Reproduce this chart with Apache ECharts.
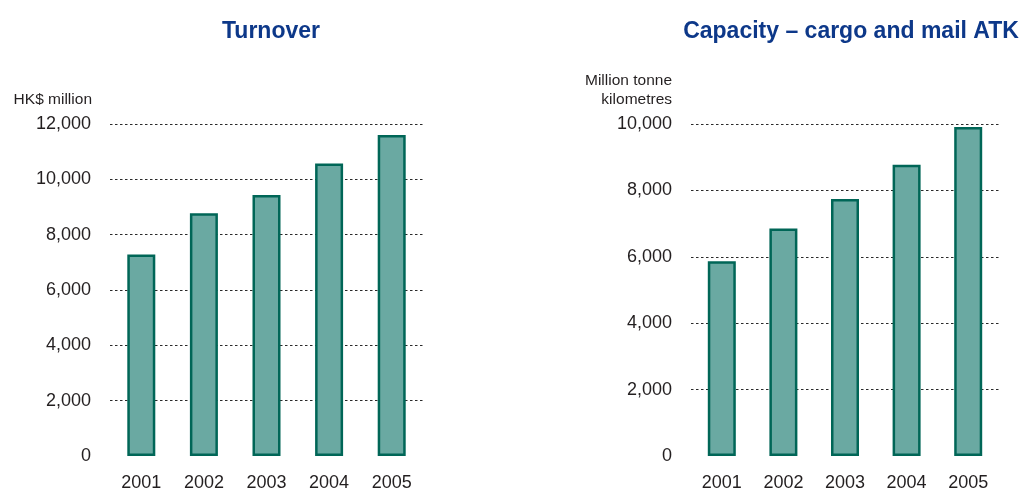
<!DOCTYPE html>
<html>
<head>
<meta charset="utf-8">
<script src="https://cdn.jsdelivr.net/npm/echarts@6/dist/echarts.min.js"></script>
<style>
  html, body { margin: 0; padding: 0; background: #ffffff; overflow: hidden; }
  #chart { width: 1020px; height: 492px; }
</style>
</head>
<body>
<div id="chart"></div>
<script>
// Years shown on both category axes
const years = ['2001', '2002', '2003', '2004', '2005'];

// Turnover, HK$ million
const turnover = [7280, 8770, 9430, 10570, 11600];

// Capacity – cargo and mail ATK, million tonne kilometres
const capacity = [5865, 6850, 7740, 8770, 9910];

const titleColor = '#0d3889';
const textColor = '#231f20';
const barFill = '#6aa9a2';
const barEdge = '#006657';
const font = '"Liberation Sans", Arial, sans-serif';

const fmt = v => v.toLocaleString('en-US');

function valueAxis(gridIndex, max) {
  return {
    type: 'value',
    gridIndex: gridIndex,
    min: 0,
    max: max,
    interval: 2000,
    axisLine: { show: false },
    axisTick: { show: false },
    axisLabel: {
      margin: 19,
      fontFamily: font,
      fontSize: 18,
      color: textColor,
      formatter: fmt
    },
    splitLine: {
      show: true,
      showMinLine: false,
      lineStyle: { color: '#2a2a2a', width: 1, type: [2.5, 2.5] }
    }
  };
}

function categoryAxis(gridIndex) {
  return {
    type: 'category',
    gridIndex: gridIndex,
    data: years,
    axisLine: { show: false },
    axisTick: { show: false },
    axisLabel: {
      margin: 18,
      fontFamily: font,
      fontSize: 18,
      color: textColor
    }
  };
}

function barSeries(idx, values) {
  return {
    type: 'bar',
    xAxisIndex: idx,
    yAxisIndex: idx,
    data: values,
    barWidth: 28,
    itemStyle: {
      color: barFill,
      borderColor: barEdge,
      borderWidth: 2.5
    }
  };
}

const chart = echarts.init(document.getElementById('chart'), null, { renderer: 'canvas' });

chart.setOption({
  backgroundColor: '#ffffff',
  animation: false,
  title: [
    {
      text: 'Turnover',
      left: 266, top: 15,
      textAlign: 'center',
      textStyle: { fontFamily: font, fontSize: 23, fontWeight: 'bold', color: titleColor }
    },
    {
      text: 'Capacity – cargo and mail ATK',
      left: 846, top: 15,
      textAlign: 'center',
      textStyle: { fontFamily: font, fontSize: 23, fontWeight: 'bold', color: titleColor }
    }
  ],
  graphic: [
    {
      type: 'text',
      style: {
        x: 92, y: 100,
        text: 'HK$ million',
        align: 'right', verticalAlign: 'middle',
        font: '15.5px ' + font,
        fill: textColor
      }
    },
    {
      type: 'text',
      style: {
        x: 672, y: 90,
        text: 'Million tonne\nkilometres',
        align: 'right', verticalAlign: 'middle',
        lineHeight: 19,
        font: '15.5px ' + font,
        fill: textColor
      }
    }
  ],
  grid: [
    { left: 110, right: 597, top: 124, bottom: 32 },
    { left: 691, right: 21, top: 124, bottom: 32 }
  ],
  xAxis: [categoryAxis(0), categoryAxis(1)],
  yAxis: [valueAxis(0, 12000), valueAxis(1, 10000)],
  series: [barSeries(0, turnover), barSeries(1, capacity)]
});
</script>
</body>
</html>
